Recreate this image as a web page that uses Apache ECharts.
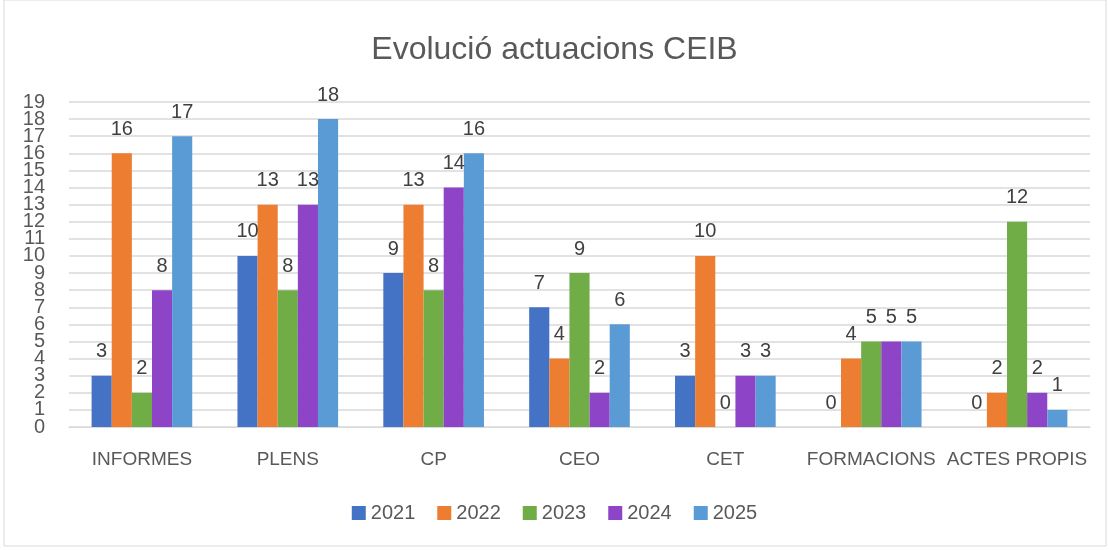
<!DOCTYPE html>
<html><head><meta charset="utf-8">
<script src="https://cdn.jsdelivr.net/npm/echarts@6/dist/echarts.min.js"></script>
<style>html,body{margin:0;padding:0;background:#fff}#c{width:1109px;height:550px}</style>
</head><body><div id="c"></div>
<script>
const categories = ['INFORMES','PLENS','CP','CEO','CET','FORMACIONS','ACTES PROPIS'];
const seriesNames = ['2021','2022','2023','2024','2025'];
const v2021 = [3,10,9,7,3,0,0];
const v2022 = [16,13,13,4,10,4,2];
const v2023 = [2,8,8,9,0,5,12];
const v2024 = [8,13,14,2,3,5,2];
const v2025 = [17,18,16,6,3,5,1];
const yMin = 0, yMax = 19, yStep = 1;
const colors = ['#4472C4','#ED7D31','#70AD47','#8E44C6','#5B9BD5'];
const values = [v2021,v2022,v2023,v2024,v2025];
const chart = echarts.init(document.getElementById('c'));
const font = '"Liberation Sans", Arial, sans-serif';
const yLabelBase = {fontFamily:font,fontSize:20,color:'#595959',margin:24,hideOverlap:false};
chart.setOption({
  animation:false,
  graphic:[{type:'rect',shape:{x:4,y:0,width:1102,height:546},style:{fill:'none',stroke:'#d9d9d9',lineWidth:1}}],
  title:{text:'Evolució actuacions CEIB',left:'center',top:29,textStyle:{fontFamily:font,fontSize:32,fontWeight:'normal',color:'#595959'}},
  legend:{top:498,left:'center',itemWidth:14,itemHeight:14,itemGap:22,icon:'rect',data:seriesNames,textStyle:{fontFamily:font,fontSize:20,color:'#595959'}},
  grid:{left:69,right:19,top:102,bottom:123},
  xAxis:{type:'category',data:categories,axisTick:{show:false},axisLine:{lineStyle:{color:'#d9d9d9'}},
    axisLabel:{interval:0,fontFamily:font,fontSize:19,color:'#595959',margin:23}},
  yAxis:[
    {type:'value',min:yMin,max:yMax,interval:yStep,position:'left',axisLine:{show:false},axisTick:{show:false},
     splitLine:{lineStyle:{color:'#d9d9d9',width:1.5}},
     axisLabel:Object.assign({showMinLabel:false,showMaxLabel:false},yLabelBase)},
    {type:'value',min:yMin,max:yMax,interval:yStep,position:'left',offset:0,axisLine:{show:false},axisTick:{show:false},
     splitLine:{show:false},
     axisLabel:Object.assign({showMinLabel:true,showMaxLabel:true,formatter:v=>(v===yMin||v===yMax)?String(v):''},yLabelBase)}
  ],
  series: seriesNames.map((n,i)=>({name:n,type:'bar',data:values[i],barGap:'0%',barCategoryGap:'31%',
    itemStyle:{color:colors[i]},
    label:{show:true,position:'top',distance:14,fontFamily:font,fontSize:20,color:'#404040'}}))
});
</script></body></html>
